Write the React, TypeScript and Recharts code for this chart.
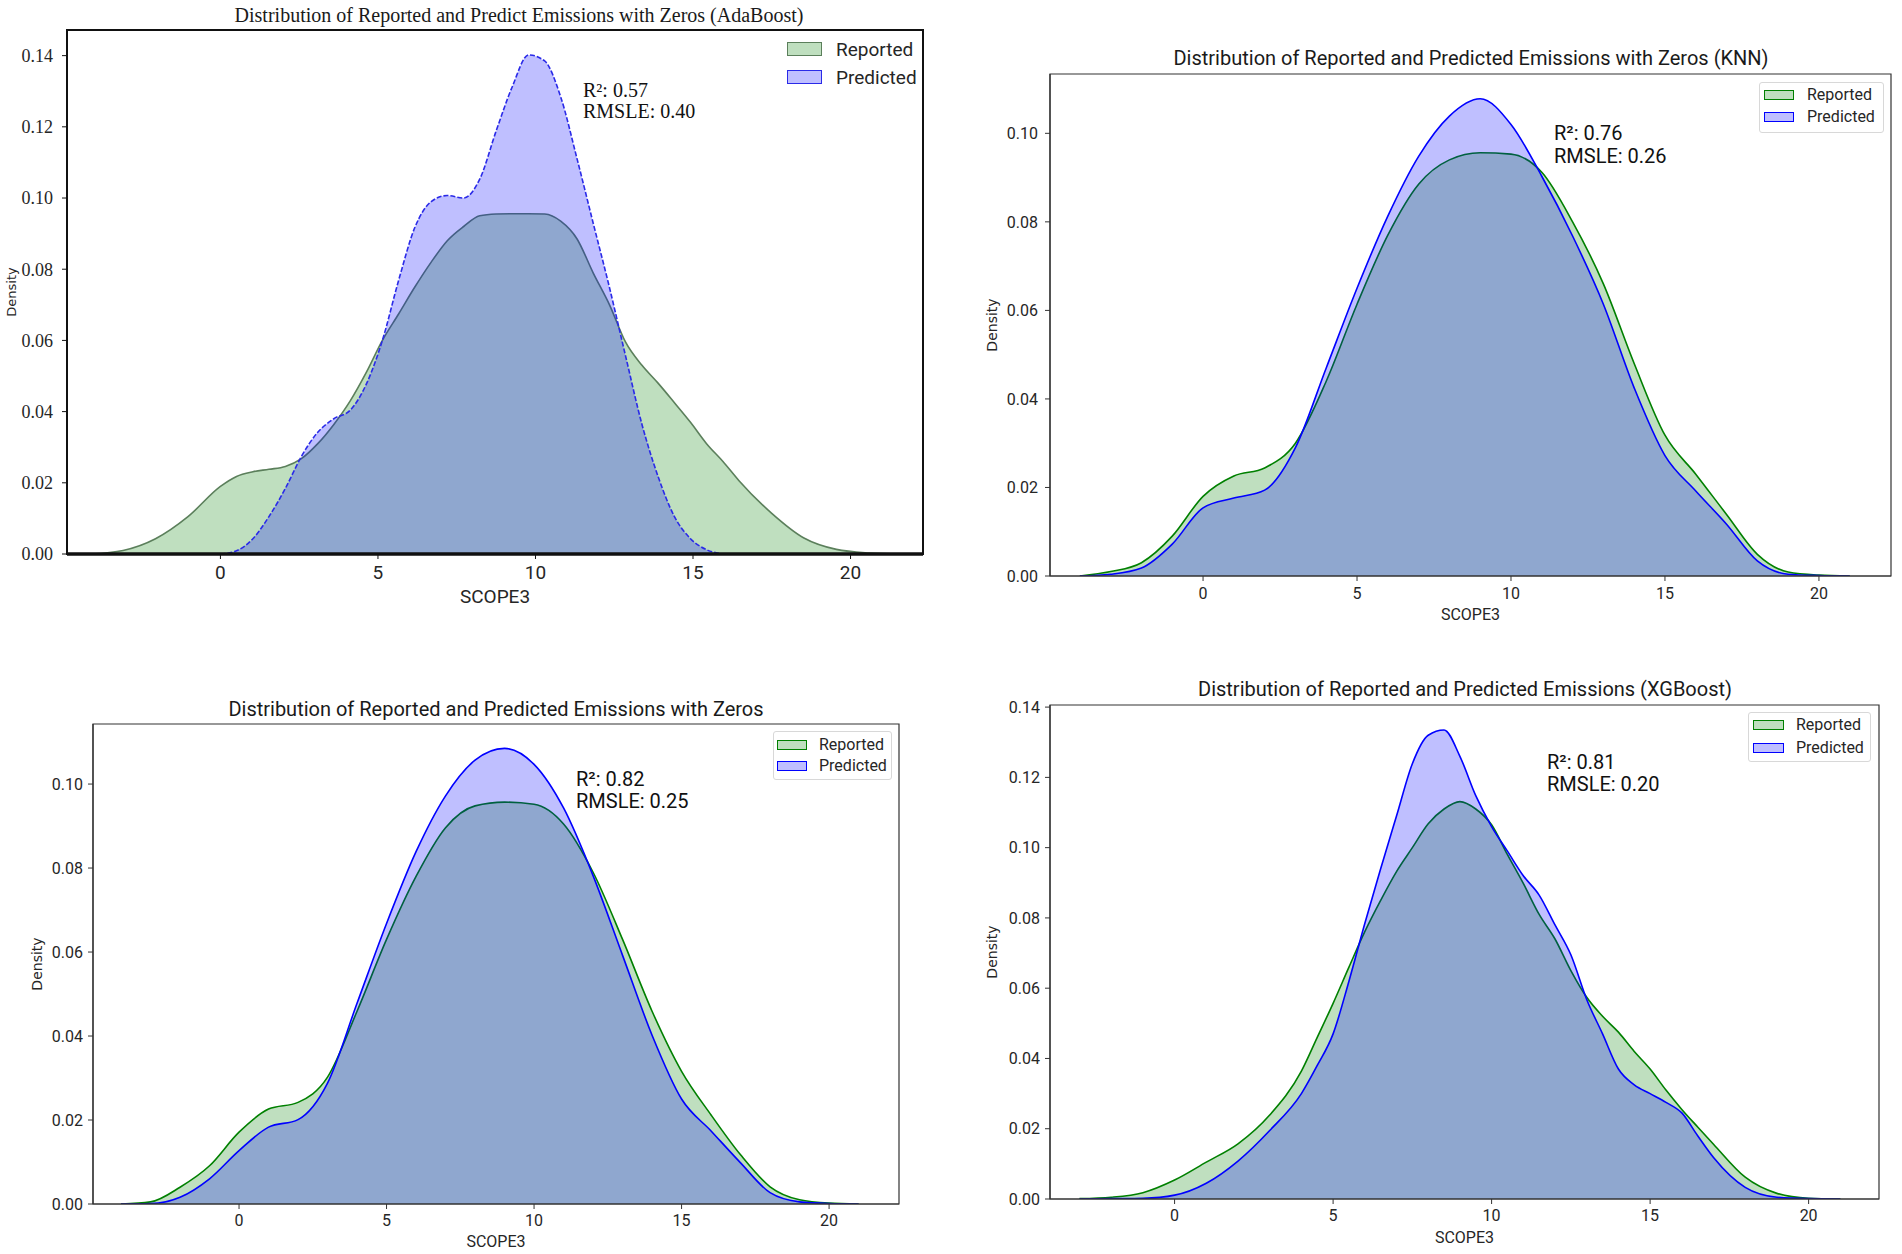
import React from 'react';
import { AreaChart, Area, XAxis, YAxis, Legend, ReferenceArea } from 'recharts';

// SCOPE3 positions and densities
const X_TICKS = [0, 5, 10, 15, 20];
const SERIES_ORDER = ['reported', 'predicted'];

const adaX = [-4.12, -3.09, -2.06, -1.03, 0, 0.51, 1.03, 1.54, 2.06, 2.57, 3.09, 3.6, 4.12, 4.63, 5.14, 5.66, 6.17, 6.69, 7.2, 7.72, 8.23, 8.75, 9.26, 9.78, 10.29, 10.8, 11.32, 11.83, 12.35, 12.86, 13.38, 13.89, 14.41, 14.92, 15.43, 15.95, 16.46, 17.49, 18.52, 19.55, 20.58, 21.61];
const adaReported = [0, 0.001, 0.0043, 0.0105, 0.019, 0.0218, 0.0231, 0.0238, 0.0246, 0.0268, 0.031, 0.0364, 0.043, 0.051, 0.06, 0.0675, 0.075, 0.082, 0.088, 0.092, 0.095, 0.0955, 0.0956, 0.0956, 0.0955, 0.0935, 0.0885, 0.079, 0.07, 0.0595, 0.053, 0.048, 0.0425, 0.037, 0.031, 0.026, 0.0206, 0.0115, 0.0045, 0.0013, 0.0003, 0];
const adaPredicted = [null, null, null, null, 0, 0.0009, 0.0043, 0.0105, 0.0184, 0.0274, 0.0342, 0.038, 0.0404, 0.0477, 0.06, 0.077, 0.0917, 0.099, 0.1007, 0.1, 0.1053, 0.1188, 0.1312, 0.1402, 0.1385, 0.1284, 0.111, 0.093, 0.0748, 0.0556, 0.0364, 0.0218, 0.0105, 0.0043, 0.0012, 0, null, null, null, null, null, null];

const knnX = [-4, -3, -2, -1, 0, 1, 2, 3, 4, 5, 6, 7, 8, 9, 10, 11, 12, 13, 14, 15, 16, 17, 18, 19, 20, 21];
const knnReported = [0, 0.001, 0.003, 0.009, 0.018, 0.0226, 0.0244, 0.03, 0.044, 0.0614, 0.077, 0.0885, 0.094, 0.0956, 0.0953, 0.0912, 0.08, 0.066, 0.048, 0.0318, 0.023, 0.0139, 0.0049, 0.0009, 0.0002, 0];
const knnPredicted = [0, 0.0004, 0.0018, 0.0072, 0.0154, 0.0176, 0.0194, 0.029, 0.047, 0.065, 0.0813, 0.0948, 0.1039, 0.1078, 0.102, 0.0903, 0.0768, 0.0614, 0.0425, 0.0272, 0.0192, 0.0117, 0.0034, 0.0004, 0.0001, 0];

const zerosX = [-4, -3, -2, -1, 0, 1, 2, 3, 4, 5, 6, 7, 8, 9, 10, 11, 12, 13, 14, 15, 16, 17, 18, 19, 20, 21];
const zerosReported = [0, 0.0005, 0.004, 0.0091, 0.0171, 0.0226, 0.0242, 0.0302, 0.0459, 0.063, 0.078, 0.0896, 0.0948, 0.0957, 0.0952, 0.0905, 0.079, 0.063, 0.0459, 0.0316, 0.0212, 0.0117, 0.0041, 0.001, 0.0002, 0];
const zerosPredicted = [0, 0.0001, 0.0016, 0.006, 0.0127, 0.0183, 0.0201, 0.0288, 0.0478, 0.0668, 0.0839, 0.0972, 0.1057, 0.1085, 0.1047, 0.0943, 0.0782, 0.0592, 0.0402, 0.025, 0.0174, 0.0098, 0.0027, 0.0005, 0.0001, 0];

const xgbX = [-3, -2, -1, 0, 1, 2, 3, 4, 4.5, 5, 5.5, 6, 6.5, 7, 7.5, 8, 8.5, 9, 9.5, 10, 10.5, 11, 11.5, 12, 12.5, 13, 13.5, 14, 14.5, 15, 15.5, 16, 16.5, 17, 18, 19, 20, 21];
const xgbReported = [0.0001, 0.0005, 0.0018, 0.0054, 0.0105, 0.0157, 0.0239, 0.0364, 0.046, 0.0557, 0.066, 0.0761, 0.085, 0.0932, 0.1, 0.1068, 0.111, 0.1131, 0.111, 0.1065, 0.098, 0.0898, 0.081, 0.074, 0.065, 0.0574, 0.052, 0.0475, 0.042, 0.037, 0.031, 0.0255, 0.0205, 0.0156, 0.0062, 0.0016, 0.0002, 0];
const xgbPredicted = [0, 0.0001, 0.0002, 0.0011, 0.0045, 0.0108, 0.0195, 0.03, 0.038, 0.047, 0.062, 0.0784, 0.094, 0.109, 0.1239, 0.132, 0.1335, 0.126, 0.1148, 0.106, 0.099, 0.092, 0.0865, 0.078, 0.0695, 0.0568, 0.047, 0.037, 0.0325, 0.03, 0.0275, 0.0245, 0.018, 0.0118, 0.0033, 0.0005, 0.0001, 0];

const titles = [
  'Distribution of Reported and Predict Emissions with Zeros (AdaBoost)',
  'Distribution of Reported and Predicted Emissions with Zeros (KNN)',
  'Distribution of Reported and Predicted Emissions with Zeros',
  'Distribution of Reported and Predicted Emissions (XGBoost)',
];
const r2Values = ['0.57', '0.76', '0.82', '0.81'];
const rmsleValues = ['0.40', '0.26', '0.25', '0.20'];

const SANS = "Roboto, 'DejaVu Sans', sans-serif";
const SERIF = "'Liberation Serif', 'DejaVu Serif', serif";
const DJ = "'DejaVu Sans', sans-serif";
const TEXT = '#262626';
const FILLS: Record<string, string> = {
  reported: 'rgba(0,128,0,0.25)',
  predicted: 'rgba(0,0,255,0.25)',
};

interface PanelProps {
  title: string;
  titleFont: string;
  titleSize: number;
  titleCx: number;
  titleCy: number;
  xs: number[];
  reported: (number | null)[];
  predicted: (number | null)[];
  ox: number;
  oy: number;
  left: number;
  top: number;
  right: number;
  bottom: number;
  xDomain: [number, number];
  yMax: number;
  yTicks: number[];
  r2: string;
  rmsle: string;
  noteX: number;
  noteY: number;
  noteGap: number;
  noteFont: string;
  noteSize: number;
  legendX: number;
  legendY: number;
  legendW: number;
  legendRow: number;
  legendPad: string;
  legendFramed: boolean;
  legendSize: number;
  patchW: number;
  patchH: number;
  patchGap: number;
  yTickFont: string;
  yTickSize: number;
  yTickMargin: number;
  xTickSize: number;
  xTickMargin: number;
  xLabelSize: number;
  xLabelY: number;
  densityX: number;
  densitySize: number;
  frameColor: string;
  frameWidth: number;
  axisWidth: number;
  repStroke: string;
  predStroke: string;
  predDash?: string;
}

const Panel: React.FC<PanelProps> = (p) => {
  const rows = p.xs.map((x, i) => ({ x, reported: p.reported[i], predicted: p.predicted[i] }));
  const xh = 70;
  const W = p.right - p.ox + 10;
  const H = p.bottom - p.oy + xh;

  const legendContent = (props: any) => {
    const items = [...(props.payload || [])].sort(
      (a: any, b: any) => SERIES_ORDER.indexOf(a.dataKey) - SERIES_ORDER.indexOf(b.dataKey),
    );
    return (
      <div
        style={{
          width: p.legendW,
          boxSizing: 'border-box',
          padding: p.legendPad,
          border: p.legendFramed ? '1px solid #d8d8d8' : 'none',
          borderRadius: 3,
          background: 'rgba(255,255,255,0.8)',
        }}
      >
        {items.map((it: any) => (
          <div key={it.value} style={{ display: 'flex', alignItems: 'center', height: p.legendRow }}>
            <span
              style={{
                display: 'inline-block',
                width: p.patchW,
                height: p.patchH,
                boxSizing: 'border-box',
                background: FILLS[it.dataKey],
                border: `1.5px solid ${it.color}`,
                marginRight: p.patchGap,
              }}
            />
            <span style={{ fontFamily: SANS, fontSize: p.legendSize, color: TEXT, lineHeight: 1 }}>{it.value}</span>
          </div>
        ))}
      </div>
    );
  };

  const xLabel = (props: any) => {
    const vb = props.viewBox || {};
    return (
      <text x={vb.x + vb.width / 2} y={p.xLabelY} textAnchor="middle" fontFamily={SANS} fontSize={p.xLabelSize} fill={TEXT}>
        SCOPE3
      </text>
    );
  };

  const yLabel = (props: any) => {
    const vb = props.viewBox || {};
    const cx = vb.x + p.densityX;
    const cy = vb.y + vb.height / 2;
    return (
      <text
        x={cx}
        y={cy}
        transform={`rotate(-90 ${cx} ${cy})`}
        textAnchor="middle"
        dominantBaseline="central"
        fontFamily={DJ}
        fontSize={p.densitySize}
        fill={TEXT}
      >
        Density
      </text>
    );
  };

  return (
    <>
      <div
        style={{
          position: 'absolute',
          left: p.titleCx - 500,
          top: p.titleCy - 14,
          width: 1000,
          lineHeight: '28px',
          textAlign: 'center',
          fontFamily: p.titleFont,
          fontSize: p.titleSize,
          color: '#1a1a1a',
          whiteSpace: 'nowrap',
        }}
      >
        {p.title}
      </div>
      <div style={{ position: 'absolute', left: p.ox, top: p.oy, width: W, height: H }}>
        <AreaChart width={W} height={H} data={rows} margin={{ top: p.top - p.oy, right: 10, bottom: 0, left: 0 }}>
          <XAxis
            dataKey="x"
            type="number"
            domain={p.xDomain}
            ticks={X_TICKS}
            interval={0}
            allowDataOverflow
            height={xh}
            tickSize={5}
            tickMargin={p.xTickMargin}
            axisLine={{ stroke: p.frameColor, strokeWidth: p.axisWidth }}
            tickLine={{ stroke: p.frameColor }}
            tick={{ fill: TEXT, fontSize: p.xTickSize, fontFamily: SANS }}
            label={{ content: xLabel }}
          />
          <YAxis
            type="number"
            domain={[0, p.yMax]}
            ticks={p.yTicks}
            interval={0}
            allowDataOverflow
            width={p.left - p.ox}
            tickSize={5}
            tickMargin={p.yTickMargin}
            tickFormatter={(v: number) => v.toFixed(2)}
            axisLine={{ stroke: p.frameColor, strokeWidth: p.frameWidth }}
            tickLine={{ stroke: p.frameColor }}
            tick={{ fill: TEXT, fontSize: p.yTickSize, fontFamily: p.yTickFont }}
            label={{ content: yLabel }}
          />
          <Area
            type="monotone"
            dataKey="reported"
            name="Reported"
            stroke={p.repStroke}
            strokeWidth={1.6}
            fill="#008000"
            fillOpacity={0.25}
            dot={false}
            activeDot={false}
            isAnimationActive={false}
          />
          <Area
            type="monotone"
            dataKey="predicted"
            name="Predicted"
            stroke={p.predStroke}
            strokeWidth={1.6}
            strokeDasharray={p.predDash}
            fill="#0000ff"
            fillOpacity={0.25}
            dot={false}
            activeDot={false}
            isAnimationActive={false}
          />
          <ReferenceArea
            x1={p.xDomain[0]}
            x2={p.xDomain[1]}
            y1={0}
            y2={p.yMax}
            fill="none"
            stroke={p.frameColor}
            strokeWidth={p.frameWidth}
          />
          <Legend
            layout="vertical"
            align="center"
            verticalAlign="middle"
            content={legendContent}
            wrapperStyle={{ left: p.legendX - p.ox, top: p.legendY - p.oy, width: p.legendW }}
          />
        </AreaChart>
      </div>
      <div
        style={{
          position: 'absolute',
          left: p.noteX,
          top: p.noteY - p.noteGap / 2,
          fontFamily: p.noteFont,
          fontSize: p.noteSize,
          lineHeight: `${p.noteGap}px`,
          color: '#111',
          whiteSpace: 'nowrap',
        }}
      >
        <div>R²: {p.r2}</div>
        <div>RMSLE: {p.rmsle}</div>
      </div>
    </>
  );
};

const mplStyle = {
  yTickFont: SANS,
  yTickSize: 16,
  xTickSize: 16,
  xLabelSize: 16,
  densitySize: 14,
  frameColor: '#333',
  frameWidth: 1.2,
  axisWidth: 1.2,
  repStroke: '#008000',
  predStroke: '#0000ff',
  titleFont: SANS,
  titleSize: 20,
  noteFont: SANS,
  noteSize: 20,
  legendFramed: true,
  legendSize: 16,
  patchW: 30,
  patchH: 10,
};

export default function App() {
  return (
    <div
      style={{
        position: 'absolute',
        left: 0,
        top: 0,
        width: 1902,
        height: 1254,
        overflow: 'hidden',
        background: '#fff',
      }}
    >
      <Panel
        title={titles[0]}
        titleFont={SERIF}
        titleSize={20}
        titleCx={519}
        titleCy={15}
        xs={adaX}
        reported={adaReported}
        predicted={adaPredicted}
        ox={0}
        oy={0}
        left={67}
        top={30}
        right={923}
        bottom={554}
        xDomain={[-4.87, 22.3]}
        yMax={0.1472}
        yTicks={[0, 0.02, 0.04, 0.06, 0.08, 0.1, 0.12, 0.14]}
        r2={r2Values[0]}
        rmsle={rmsleValues[0]}
        noteX={583}
        noteY={90}
        noteGap={21}
        noteFont={SERIF}
        noteSize={20}
        legendX={787}
        legendY={35}
        legendW={135}
        legendRow={28}
        legendPad="0"
        legendFramed={false}
        legendSize={19}
        patchW={35}
        patchH={14}
        patchGap={14}
        yTickFont={SERIF}
        yTickSize={18}
        yTickMargin={9}
        xTickSize={19}
        xTickMargin={7}
        xLabelSize={19}
        xLabelY={603}
        densityX={11}
        densitySize={13}
        frameColor="#111"
        frameWidth={2}
        axisWidth={3.5}
        repStroke="#5b7f5b"
        predStroke="#2a2ae8"
        predDash="5 2"
      />
      <Panel
        {...mplStyle}
        title={titles[1]}
        titleCx={1471}
        titleCy={58}
        xs={knnX}
        reported={knnReported}
        predicted={knnPredicted}
        ox={951}
        oy={0}
        left={1050}
        top={74}
        right={1891}
        bottom={576}
        xDomain={[-4.97, 22.34]}
        yMax={0.1134}
        yTicks={[0, 0.02, 0.04, 0.06, 0.08, 0.1]}
        r2={r2Values[1]}
        rmsle={rmsleValues[1]}
        noteX={1554}
        noteY={133}
        noteGap={23}
        legendX={1759}
        legendY={82}
        legendW={125}
        legendRow={22}
        legendPad="1px 0 4px 4px"
        patchGap={13}
        yTickMargin={7}
        xTickMargin={7}
        xLabelY={620}
        densityX={41}
      />
      <Panel
        {...mplStyle}
        title={titles[2]}
        titleCx={496}
        titleCy={709}
        xs={zerosX}
        reported={zerosReported}
        predicted={zerosPredicted}
        ox={0}
        oy={627}
        left={93}
        top={724}
        right={899}
        bottom={1204}
        xDomain={[-4.95, 22.37]}
        yMax={0.1143}
        yTicks={[0, 0.02, 0.04, 0.06, 0.08, 0.1]}
        r2={r2Values[2]}
        rmsle={rmsleValues[2]}
        noteX={576}
        noteY={779}
        noteGap={22}
        legendX={773}
        legendY={731}
        legendW={119}
        legendRow={21}
        legendPad="2px 0 3px 3px"
        patchGap={12}
        yTickMargin={5}
        xTickMargin={6}
        xLabelY={620}
        densityX={37}
      />
      <Panel
        {...mplStyle}
        title={titles[3]}
        titleCx={1465}
        titleCy={689}
        xs={xgbX}
        reported={xgbReported}
        predicted={xgbPredicted}
        ox={951}
        oy={627}
        left={1050}
        top={705}
        right={1879}
        bottom={1199}
        xDomain={[-3.93, 22.22]}
        yMax={0.1406}
        yTicks={[0, 0.02, 0.04, 0.06, 0.08, 0.1, 0.12, 0.14]}
        r2={r2Values[3]}
        rmsle={rmsleValues[3]}
        noteX={1547}
        noteY={762}
        noteGap={22}
        legendX={1748}
        legendY={712}
        legendW={123}
        legendRow={23}
        legendPad="0 0 2px 4px"
        patchW={31}
        patchGap={12}
        yTickMargin={5}
        xTickMargin={6}
        xLabelY={616}
        densityX={41}
      />
    </div>
  );
}
